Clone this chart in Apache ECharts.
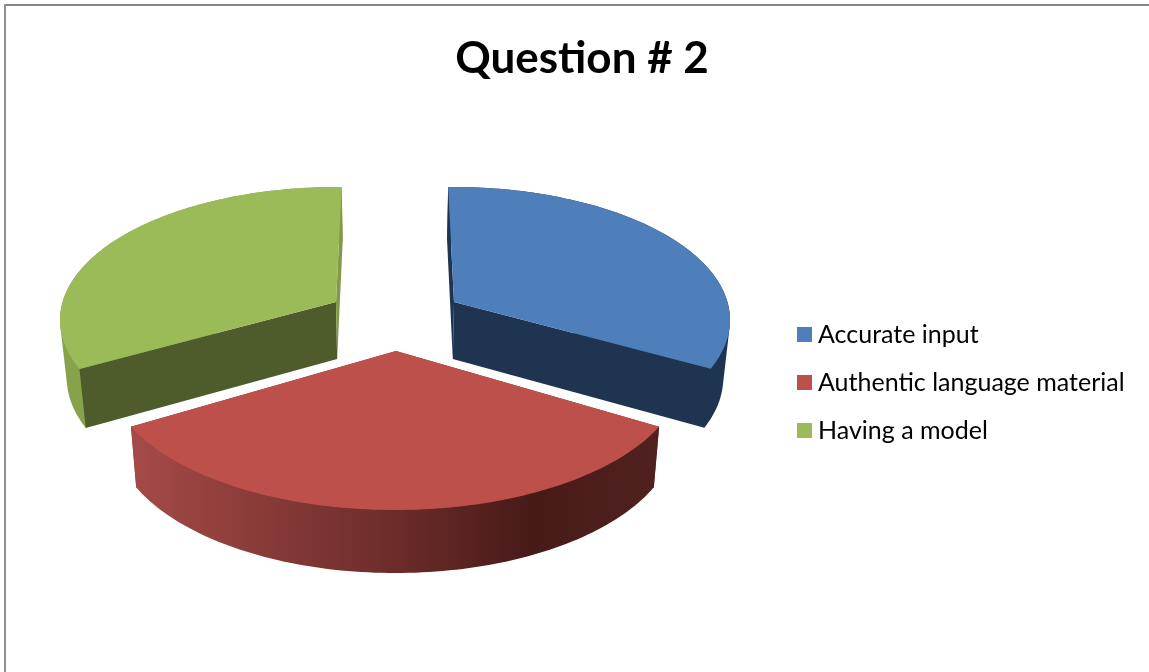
<!DOCTYPE html>
<html>
<head>
<meta charset="utf-8">
<style>html,body{margin:0;padding:0;background:#fff}#chart{width:1149px;height:672px}</style>
<script src="https://cdn.jsdelivr.net/npm/echarts@6/dist/echarts.min.js"></script>
</head>
<body>
<div id="chart"></div>
<script>
var categories = ['Accurate input', 'Authentic language material', 'Having a model'];
var values = [33.3, 33.3, 33.3];
var titleText = 'Question # 2';

// Layout of the faked 3D pie: one perspective ellipse per exploded slice.
// startDeg is the clockwise angle from 12 o'clock, sweepScale the foreshortening of the value's angle.
var slicesLayout = [
  {cx:453, cy:320,   rx:277, ry:133,   apex:[454,302], startDeg:-1,     sweepScale:0.938},
  {cx:395, cy:371.5, rx:288, ry:138.5, apex:[396,351], startDeg:113.5,  sweepScale:1.108},
  {cx:337, cy:320,   rx:277, ry:133,   apex:[336,302], startDeg:248.4,  sweepScale:0.938}
];
var slicesStyle = [
  {top:'#4E7FBB', side:'#1E3450', cut:'#1E3450', sliver:'#1E3450'},
  {top:'#BE504C', cut:'#7A2F2C', sliver:'#7A2F2C', side:{type:'linear',global:true,x:131,y:0,x2:659,y2:0,colorStops:[
    {offset:0,color:'#A54A47'},{offset:0.5,color:'#6C2C2A'},{offset:0.76,color:'#471A18'},{offset:1,color:'#512120'}]}},
  {top:'#9BBB59', side:'#86A24C', cut:'#4E5B2A', sliver:'#7F9B48'}
];
var total = values.reduce(function(a,b){return a+b;},0);

function lower(p){ // the same point on the underside of the disc
  return [395+(p[0]-395)*0.98, p[1]+57+(p[1]-302)*0.029];
}
function rim(L,deg){
  var a=deg*Math.PI/180;
  return [L.cx+L.rx*Math.sin(a), L.cy-L.ry*Math.cos(a)];
}
function hull(points){ // outline of the rim wall: the swept top arc and bottom arc together
  var p=points.slice().sort(function(a,b){return a[0]-b[0]||a[1]-b[1];});
  function cross(o,a,b){return (a[0]-o[0])*(b[1]-o[1])-(a[1]-o[1])*(b[0]-o[0]);}
  function half(list){
    var h=[];
    list.forEach(function(q){
      while(h.length>=2&&cross(h[h.length-2],h[h.length-1],q)<=0){h.pop();}
      h.push(q);
    });
    h.pop();
    return h;
  }
  return half(p).concat(half(p.slice().reverse()));
}
function sliceRenderer(i){
  return function(params, api){
    var L=slicesLayout[i], S=slicesStyle[i];
    var sweep=api.value(0)/total*360*L.sweepScale;
    var top=[], n=96;
    for(var k=0;k<=n;k++){ top.push(rim(L,L.startDeg+sweep*k/n)); }
    var bottom=top.map(lower);
    var apexLow=lower(L.apex);
    var first=top[0], last=top[n];
    function poly(pts,fill){
      return {type:'polygon',shape:{points:pts},style:{fill:fill,stroke:null}};
    }
    var wall=poly(hull(top.concat(bottom)),S.side);
    var cuts=[
      poly([first,L.apex,apexLow,bottom[0]], i===0?S.sliver:S.cut),
      poly([last,L.apex,apexLow,bottom[n]], i===2?S.sliver:S.cut)
    ];
    // The front slice hides its cut faces behind its rim; the rear slices show theirs in front of it.
    var walls = i===1 ? cuts.concat([wall]) : [wall].concat(cuts);
    return {type:'group',children:walls.concat([poly([L.apex].concat(top),S.top)])};
  };
}
var series = categories.map(function(name,i){
  return {
    type:'custom', name:name, coordinateSystem:'none',
    data:[[values[i]]], renderItem:sliceRenderer(i),
    itemStyle:{color:slicesStyle[i].top}, silent:true, animation:false
  };
});
var chart = echarts.init(document.getElementById('chart'),null,{renderer:'canvas'});
chart.setOption({
  animation:false,
  backgroundColor:'#ffffff',
  title:{text:titleText,left:577,top:32,textAlign:'center',
    textStyle:{fontFamily:'Lato',fontWeight:'bold',fontSize:44,color:'#000'}},
  legend:{orient:'vertical',left:792,top:317,itemWidth:15,itemHeight:15,itemGap:23,
    icon:'rect',selectedMode:false,
    textStyle:{fontFamily:'Lato',fontSize:25,color:'#000',padding:[0,0,0,1],lineHeight:25},
    data:categories},
  graphic:[
    {type:'line',shape:{x1:5,y1:5,x2:1149,y2:5},style:{stroke:'#868686',lineWidth:2},silent:true},
    {type:'line',shape:{x1:5,y1:4,x2:5,y2:672},style:{stroke:'#909090',lineWidth:2},silent:true}
  ],
  series:series
});
</script>
</body>
</html>
